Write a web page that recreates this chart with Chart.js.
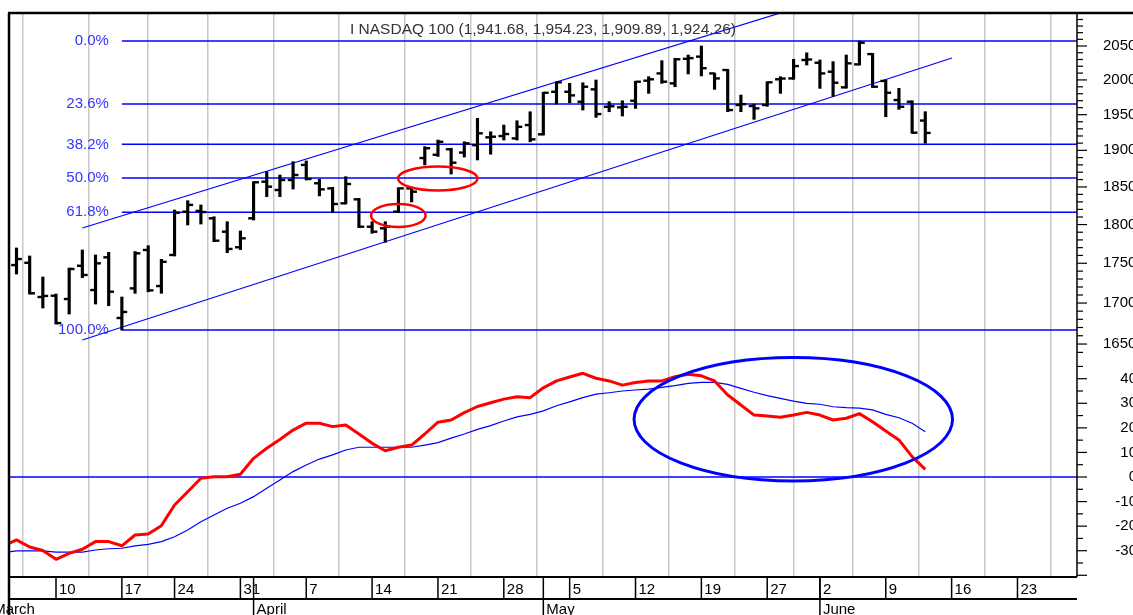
<!DOCTYPE html>
<html>
<head>
<meta charset="utf-8">
<title>NASDAQ 100</title>
<script src="https://cdn.jsdelivr.net/npm/chart.js@4.4.1/dist/chart.umd.min.js"></script>
<style>
  html, body { margin: 0; padding: 0; background: #fff; }
  canvas { display: block; }
</style>
</head>
<body>
<canvas id="chart" width="1133" height="615"></canvas>
<script>
// trading days on the time axis (Good Friday and Memorial Day closed)
const days = [
  '2008-03-03','2008-03-04','2008-03-05','2008-03-06','2008-03-07','2008-03-10','2008-03-11','2008-03-12',
  '2008-03-13','2008-03-14','2008-03-17','2008-03-18','2008-03-19','2008-03-20','2008-03-24','2008-03-25',
  '2008-03-26','2008-03-27','2008-03-28','2008-03-31',
  '2008-04-01','2008-04-02','2008-04-03','2008-04-04','2008-04-07','2008-04-08','2008-04-09','2008-04-10',
  '2008-04-11','2008-04-14','2008-04-15','2008-04-16','2008-04-17','2008-04-18','2008-04-21','2008-04-22',
  '2008-04-23','2008-04-24','2008-04-25','2008-04-28','2008-04-29','2008-04-30',
  '2008-05-01','2008-05-02','2008-05-05','2008-05-06','2008-05-07','2008-05-08','2008-05-09','2008-05-12',
  '2008-05-13','2008-05-14','2008-05-15','2008-05-16','2008-05-19','2008-05-20','2008-05-21','2008-05-22',
  '2008-05-23','2008-05-27','2008-05-28','2008-05-29','2008-05-30',
  '2008-06-02','2008-06-03','2008-06-04','2008-06-05','2008-06-06','2008-06-09','2008-06-10','2008-06-11',
  '2008-06-12','2008-06-13','2008-06-16','2008-06-17','2008-06-18','2008-06-19','2008-06-20','2008-06-23',
  '2008-06-24','2008-06-25','2008-06-26','2008-06-27'
];

// daily bars, Mar 5 .. Jun 12
const barFrom = '2008-03-05';
const open = [
  1747.7, 1750.6, 1707.5, 1709.1, 1705.0, 1746.8, 1716.2, 1757.6, 1681.6, 1718.3,
  1767.0, 1721.2, 1760.6, 1817.0, 1818.0, 1808.2, 1790.7, 1770.5, 1808.2, 1857.1,
  1845.9, 1859.4, 1879.9, 1855.0, 1848.1, 1828.1, 1833.4, 1797.2, 1795.1, 1817.0,
  1848.1, 1889.4, 1893.9, 1901.5, 1896.9, 1907.2, 1918.1, 1919.9, 1916.6, 1935.3,
  1922.3, 1982.8, 1982.8, 1968.5, 1986.3, 1961.3, 1960.4, 1969.9, 1998.9, 2009.5,
  1995.0, 2031.0, 2034.2, 2009.5, 2014.5, 1963.8, 1962.3, 1963.8, 2000.9, 2002.2,
  2029.2, 2025.2, 2012.0, 1989.2, 2022.8, 2038.0, 1998.5, 1970.9, 1968.5, 1941.68
];
const high = [
  1769.6, 1759.3, 1732.6, 1711.2, 1743.9, 1767.0, 1760.6, 1764.0, 1707.5, 1765.0,
  1772.6, 1755.0, 1819.2, 1831.6, 1825.9, 1810.3, 1803.8, 1791.6, 1857.1, 1870.7,
  1866.2, 1884.4, 1885.4, 1860.4, 1849.5, 1863.9, 1834.8, 1803.8, 1803.8, 1849.0,
  1849.0, 1905.1, 1914.3, 1902.9, 1911.9, 1944.8, 1925.9, 1935.3, 1941.4, 1954.2,
  1982.0, 1997.4, 1995.0, 1995.9, 1999.9, 1968.5, 1969.9, 1998.0, 2004.7, 2028.2,
  2031.8, 2036.6, 2050.0, 2010.0, 2015.5, 1978.1, 1965.1, 1997.4, 2004.7, 2030.3,
  2039.9, 2029.2, 2026.8, 2036.6, 2057.5, 2039.0, 1999.9, 1987.7, 1969.9, 1954.23
];
const low = [
  1736.3, 1711.2, 1693.9, 1674.2, 1686.5, 1731.7, 1698.8, 1696.7, 1666.9, 1712.1,
  1714.0, 1712.1, 1759.3, 1799.4, 1800.7, 1777.7, 1763.5, 1767.5, 1806.0, 1837.0,
  1837.0, 1847.2, 1859.4, 1838.0, 1815.6, 1827.2, 1796.0, 1788.6, 1776.9, 1815.6,
  1829.9, 1879.9, 1891.6, 1867.5, 1890.7, 1886.7, 1894.7, 1914.3, 1914.3, 1911.9,
  1921.3, 1965.1, 1967.0, 1956.6, 1946.2, 1954.2, 1948.1, 1959.0, 1980.5, 1995.0,
  1990.1, 2008.7, 2005.8, 1986.3, 1954.2, 1954.2, 1943.4, 1962.0, 1980.5, 2000.9,
  2021.8, 1987.7, 1976.1, 1988.0, 2021.8, 1989.0, 1947.1, 1957.6, 1923.7, 1909.89
];
const close = [
  1755.4, 1712.1, 1708.8, 1675.4, 1742.7, 1735.1, 1749.9, 1714.1, 1689.0, 1762.7,
  1715.8, 1751.9, 1815.6, 1826.0, 1816.5, 1779.0, 1768.3, 1782.1, 1856.3, 1850.4,
  1859.4, 1866.2, 1860.8, 1846.8, 1827.2, 1854.0, 1797.2, 1790.7, 1797.2, 1848.1,
  1843.6, 1902.9, 1911.9, 1883.0, 1909.7, 1923.7, 1919.0, 1922.7, 1932.9, 1915.3,
  1981.4, 1996.5, 1977.6, 1990.1, 1950.9, 1962.0, 1961.3, 1997.4, 2000.9, 1997.4,
  2030.3, 2032.0, 2017.1, 2002.2, 1956.6, 1965.0, 1959.0, 1996.5, 2002.0, 2020.3,
  2030.0, 2009.5, 1995.9, 2024.3, 2054.9, 1990.1, 1981.4, 1961.3, 1924.6, 1924.26
];

// MACD and its signal line, Mar 4 .. Jun 12
const macdFrom = '2008-03-04';
const macdLine = [
  -28.1, -25.6, -28.5, -29.9, -33.5, -31.1, -29.4, -26.3, -26.3, -28.0,
  -23.6, -23.2, -19.8, -11.4, -6.0, -0.5, 0.1, 0.1, 1.1, 7.6,
  11.7, 15.3, 19.1, 21.9, 21.9, 20.5, 21.2, 17.5, 13.7, 10.7,
  12.1, 13.0, 17.5, 22.3, 23.2, 26.2, 28.7, 30.2, 31.7, 32.7,
  32.3, 36.3, 39.1, 40.7, 42.2, 40.2, 39.1, 37.4, 38.5, 39.1,
  39.1, 40.8, 41.8, 41.2, 39.1, 33.4, 29.3, 25.2, 24.8, 24.3,
  25.2, 26.3, 25.2, 23.2, 23.9, 25.8, 22.5, 18.7, 15.1, 8.3, 3.1
];
const signalLine = [
  -30.7, -30.1, -30.1, -30.1, -30.6, -30.6, -30.6, -29.7, -29.2, -29.0,
  -28.0, -27.4, -26.3, -24.3, -21.6, -18.2, -15.5, -12.7, -10.7, -8.0,
  -4.6, -1.2, 2.2, 4.9, 7.3, 9.0, 11.0, 12.1, 12.1, 12.1,
  12.1, 12.1, 13.0, 14.0, 15.8, 17.5, 19.4, 20.9, 22.8, 24.5,
  25.5, 26.9, 29.0, 30.6, 32.3, 33.7, 34.3, 35.0, 35.4, 35.8,
  36.5, 37.2, 38.1, 38.5, 38.5, 37.7, 36.1, 34.5, 33.1, 32.0,
  30.9, 30.0, 29.6, 28.6, 28.2, 28.0, 27.3, 25.5, 24.1, 21.9, 18.4
];

// retracement levels and axis labels
const fibPct = [0, 23.6, 38.2, 50, 61.8, 100];
const priceLabels = [1650, 1700, 1750, 1800, 1850, 1900, 1950, 2000, 2050];
const macdLabels = [-30, -20, -10, 0, 10, 20, 30, 40];

// drawn trend channel (day index, price)
const channelTop = [{ x: 7, y: 1795.5 }, { x: 63.2, y: 2119.9 }];
const channelBottom = [{ x: 7, y: 1654.9 }, { x: 73.03, y: 2032.2 }];

// hand-drawn rings: day range and value range
const priceRings = [
  { x0: 28.92, x1: 33.06, y0: 1827.2, y1: 1796.8 },
  { x0: 30.97, x1: 37.0, y0: 1877.8, y1: 1845.2 }
];
const macdRings = [
  { x0: 48.89, x1: 73.07, y0: 48.6, y1: -1.6 }
];

const monthNames = ['January','February','March','April','May','June','July','August','September','October','November','December'];

const barStart = days.indexOf(barFrom);
const macdStart = days.indexOf(macdFrom);
const xMin = 1.431, xMax = 82.52;

// week and month boundaries from the calendar
const weeks = [], months = [];
days.forEach((d, i) => {
  const t = new Date(d + 'T00:00:00Z');
  const p = i ? new Date(days[i - 1] + 'T00:00:00Z') : null;
  if (!p || t.getUTCDay() < p.getUTCDay()) weeks.push({ i, label: String(t.getUTCDate()) });
  if (!p || t.getUTCMonth() !== p.getUTCMonth()) months.push({ i, label: monthNames[t.getUTCMonth()] });
});

const hi = Math.max(...high), lo = Math.min(...low);
const fibFrom = barStart + low.indexOf(lo);
const fibLevel = pc => hi - pc / 100 * (hi - lo);

const fmt = v => {
  const [a, b] = v.toFixed(2).split('.');
  return a.replace(/\B(?=(\d{3})+$)/g, ',') + '.' + b;
};
const last = open.length - 1;
const title = 'I NASDAQ 100 (' + [open[last], high[last], low[last], close[last]].map(fmt).join(', ') + ')';

const FONT = '15px "Liberation Sans", Arial, sans-serif';
const tickShift = 0.2;

const overlay = {
  id: 'overlay',
  afterDatasetsDraw(chart) {
    const { ctx, chartArea: a, scales: { x, price, macd } } = chart;
    ctx.save();
    ctx.beginPath();
    ctx.rect(a.left, a.top, a.right - a.left, a.bottom - a.top);
    ctx.clip();
    const ring = (r, ys, color, w) => {
      const x0 = x.getPixelForValue(r.x0), x1 = x.getPixelForValue(r.x1);
      const y0 = ys.getPixelForValue(r.y0), y1 = ys.getPixelForValue(r.y1);
      ctx.beginPath();
      ctx.ellipse((x0 + x1) / 2, (y0 + y1) / 2, Math.abs(x1 - x0) / 2, Math.abs(y1 - y0) / 2, 0, 0, Math.PI * 2);
      ctx.strokeStyle = color;
      ctx.lineWidth = w;
      ctx.stroke();
    };
    priceRings.forEach(r => ring(r, price, '#ff0000', 2.5));
    macdRings.forEach(r => ring(r, macd, '#0000ff', 3));
    ctx.restore();

    ctx.save();
    ctx.font = FONT;
    ctx.textBaseline = 'middle';
    ctx.textAlign = 'right';
    ctx.fillStyle = '#3434ff';
    const fx = x.getPixelForValue(fibFrom) - 13;
    fibPct.forEach(pc => ctx.fillText(pc.toFixed(1) + '%', fx, price.getPixelForValue(fibLevel(pc))));
    ctx.textAlign = 'center';
    ctx.fillStyle = '#333';
    ctx.font = '15.5px "Liberation Sans", Arial, sans-serif';
    ctx.fillText(title, (a.left + a.right) / 2, a.top + 17);
    ctx.restore();
  },
  afterDraw(chart) {
    const { ctx, chartArea: a, scales: { x, price, macd } } = chart;
    const W = chart.width, H = chart.height;
    const seg = (x0, y0, x1, y1) => { ctx.beginPath(); ctx.moveTo(x0, y0); ctx.lineTo(x1, y1); ctx.stroke(); };
    ctx.save();
    ctx.strokeStyle = '#000';
    ctx.fillStyle = '#000';
    ctx.lineWidth = 2.5;
    seg(a.left - 1, a.top, W, a.top);
    seg(a.left, a.top, a.left, H);

    // right axis: price on top, MACD below
    ctx.lineWidth = 1.5;
    seg(a.right, a.top, a.right, a.bottom);
    ctx.lineWidth = 1.2;
    for (let v = 1640; v <= 2090; v += 10) {
      const y = price.getPixelForValue(v);
      seg(a.right, y, a.right + (v % 50 === 0 ? 10 : 6), y);
    }
    for (let v = -40; v <= 45; v += 5) {
      const y = macd.getPixelForValue(v);
      seg(a.right, y, a.right + (v % 10 === 0 ? 10 : 6), y);
    }
    ctx.font = FONT;
    ctx.textBaseline = 'middle';
    ctx.textAlign = 'left';
    priceLabels.forEach(v => ctx.fillText(String(v), a.right + 26, price.getPixelForValue(v)));
    ctx.textAlign = 'right';
    macdLabels.forEach(v => ctx.fillText(String(v), a.right + 60, macd.getPixelForValue(v)));

    // date strip
    const mid = a.bottom + 22;
    ctx.lineWidth = 2;
    seg(a.left, a.bottom, a.right, a.bottom);
    seg(a.left, mid, a.right, mid);
    ctx.lineWidth = 1.5;
    ctx.textAlign = 'left';
    ctx.textBaseline = 'alphabetic';
    weeks.forEach(w => {
      const px = x.getPixelForValue(w.i);
      if (px < a.left || px > a.right) return;
      seg(px, a.bottom, px, mid);
      ctx.fillText(w.label, px + 3, a.bottom + 17);
    });
    months.forEach(m => {
      const px = x.getPixelForValue(m.i);
      if (px > a.right) return;
      if (px >= a.left) seg(px, a.bottom, px, H);
      ctx.fillText(m.label, px + 3, H - 1);
    });
    ctx.restore();
  }
};

const lineSet = (data, axis, color, width, order) => ({
  type: 'line', data, yAxisID: axis, borderColor: color, borderWidth: width,
  pointRadius: 0, tension: 0, fill: false, order
});

const datasets = [];
fibPct.forEach(pc => datasets.push(
  lineSet([{ x: fibFrom, y: fibLevel(pc) }, { x: xMax, y: fibLevel(pc) }], 'price', '#0000ff', 1.5, 10)
));
datasets.push(lineSet(channelTop, 'price', '#0000ff', 1.2, 9));
datasets.push(lineSet(channelBottom, 'price', '#0000ff', 1.2, 9));
datasets.push(lineSet([{ x: xMin, y: 0 }, { x: xMax, y: 0 }], 'macd', '#0000ff', 1.5, 10));
datasets.push(lineSet(signalLine.map((v, k) => ({ x: macdStart + k, y: v })), 'macd', '#0000ff', 1.2, 5));
datasets.push(Object.assign(
  lineSet(macdLine.map((v, k) => ({ x: macdStart + k, y: v })), 'macd', '#ff0000', 3, 4),
  { borderJoinStyle: 'round' }
));
datasets.push({
  type: 'bar', yAxisID: 'price', order: 2,
  data: open.map((o, k) => ({ x: barStart + k, y: [low[k], high[k]] })),
  backgroundColor: '#000', borderWidth: 0, barThickness: 2.5, grouped: false
});
datasets.push({
  type: 'scatter', yAxisID: 'price', order: 1,
  data: open.map((o, k) => ({ x: barStart + k - tickShift, y: o })),
  pointStyle: 'line', pointRadius: 2.7, pointBorderWidth: 2.4, pointBorderColor: '#000'
});
datasets.push({
  type: 'scatter', yAxisID: 'price', order: 1,
  data: close.map((c, k) => ({ x: barStart + k + tickShift, y: c })),
  pointStyle: 'line', pointRadius: 2.7, pointBorderWidth: 2.4, pointBorderColor: '#000'
});

new Chart(document.getElementById('chart'), {
  type: 'line',
  data: { datasets },
  options: {
    responsive: false,
    animation: false,
    events: [],
    devicePixelRatio: 1,
    layout: { padding: { left: 9, top: 13, right: 56, bottom: 38 } },
    plugins: { legend: { display: false }, tooltip: { enabled: false }, title: { display: false } },
    scales: {
      x: {
        type: 'linear', min: xMin, max: xMax, bounds: 'data', offset: false,
        ticks: { display: false },
        border: { display: false },
        grid: { color: '#c8c8c8', lineWidth: 1.5, drawTicks: false },
        afterBuildTicks: s => {
          s.ticks = weeks.filter(w => w.i >= xMin && w.i <= xMax).map(w => ({ value: w.i }));
        }
      },
      price: { type: 'logarithmic', position: 'right', min: 1392.5, max: 2099.9, bounds: 'data', display: false },
      macd: { type: 'linear', position: 'right', min: -40.7, max: 188.85, bounds: 'data', display: false }
    }
  },
  plugins: [overlay]
});
</script>
</body>
</html>
